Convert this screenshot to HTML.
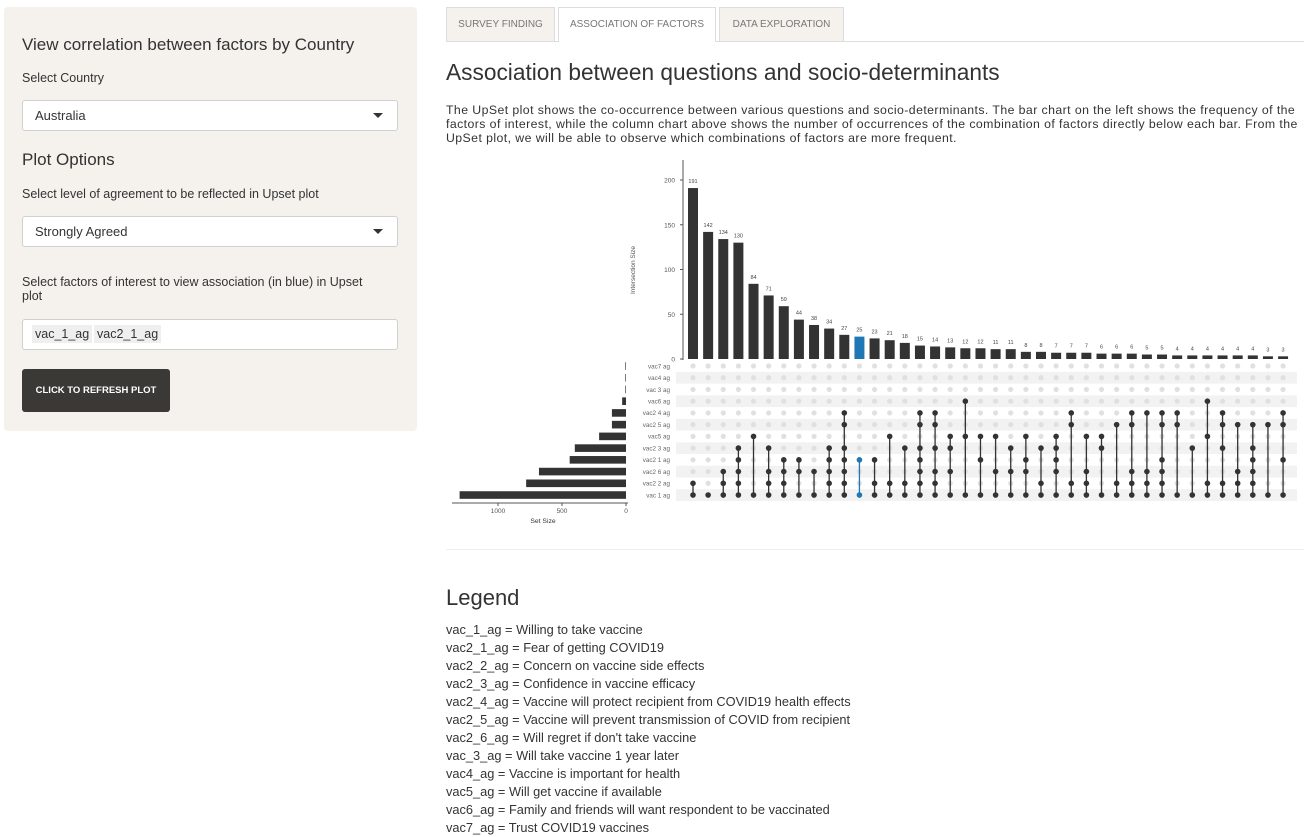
<!DOCTYPE html>
<html><head><meta charset="utf-8">
<style>
body{margin:0;width:1312px;height:837px;position:relative;background:#fff;font-family:"Liberation Sans",sans-serif;color:#333;overflow:hidden}
.a{position:absolute;white-space:nowrap}
.sel{position:absolute;left:22px;width:376px;height:31px;border:1px solid #d0d0d0;border-radius:3px;background:#fff;box-sizing:border-box;font-size:13px;line-height:29px;padding-left:12px;color:#333}
.sel:after{content:"";position:absolute;right:14px;top:12px;border-left:5px solid transparent;border-right:5px solid transparent;border-top:5px solid #333}
.tab{position:absolute;top:7px;height:34px;box-sizing:border-box;border:1px solid #ddd;border-bottom:none;background:#f5f2ed;font-size:10px;color:#777;line-height:33px;text-align:center;font-family:"Liberation Sans Narrow","Liberation Sans",sans-serif}
.cond{font-family:"Liberation Sans Narrow","Liberation Sans",sans-serif}
.leg{position:absolute;left:446px;font-size:12.8px;color:#333;white-space:nowrap}
</style></head><body>
<div class="a" style="left:4px;top:7px;width:413px;height:424px;background:#f5f2ed;border-radius:4px"></div>
<div class="a" style="left:22px;top:35px;font-size:17px;color:#333">View correlation between factors by Country</div>
<div class="a" style="left:22px;top:71px;font-size:12.5px">Select Country</div>
<div class="sel" style="top:100px">Australia</div>
<div class="a" style="left:22px;top:150px;font-size:17px">Plot Options</div>
<div class="a" style="left:22px;top:187px;font-size:12.5px">Select level of agreement to be reflected in Upset plot</div>
<div class="sel" style="top:216px">Strongly Agreed</div>
<div class="a" style="left:22px;top:275px;font-size:12.5px;line-height:14px;white-space:normal;width:362px">Select factors of interest to view association (in blue) in Upset plot</div>
<div class="a" style="left:22px;top:319px;width:376px;height:31px;border:1px solid #d0d0d0;border-radius:3px;background:#fff;box-sizing:border-box">
<span class="a" style="left:9px;top:5px;background:#efefef;font-size:12.5px;padding:2px 3px">vac_1_ag</span>
<span class="a" style="left:71px;top:5px;background:#efefef;font-size:12.5px;padding:2px 3px">vac2_1_ag</span></div>
<div class="a" style="left:22px;top:369px;width:148px;height:43px;background:#3b3935;border-radius:3px;color:#fff;font-size:9.5px;font-weight:bold;line-height:43px;text-align:center">CLICK TO REFRESH PLOT</div>

<div class="tab" style="left:446px;width:109px">SURVEY FINDING</div>
<div class="tab" style="left:558px;width:158px;background:#fff;height:35px">ASSOCIATION OF FACTORS</div>
<div class="tab" style="left:719px;width:125px">DATA EXPLORATION</div>
<div class="a" style="left:446px;top:41px;width:858px;height:1px;background:#ddd"></div>
<div class="a" style="left:559px;top:41px;width:156px;height:1px;background:#fff"></div>
<div class="a cond" style="left:446px;top:59px;font-size:22.7px;color:#333">Association between questions and socio-determinants</div>
<div class="a cond" style="left:446px;top:103px;font-size:12.3px;line-height:14px;color:#333;letter-spacing:0.42px">The UpSet plot shows the co-occurrence between various questions and socio-determinants. The bar chart on the left shows the frequency of the<br>factors of interest, while the column chart above shows the number of occurrences of the combination of factors directly below each bar. From the<br>UpSet plot, we will be able to observe which combinations of factors are more frequent.</div>

<svg id="plot" class="a" style="left:0;top:0" width="1312" height="837" font-family="Liberation Sans, sans-serif"></svg>

<div class="a" style="left:446px;top:549px;width:858px;height:1px;background:#eee"></div>
<div class="a" style="left:446px;top:585px;font-size:22px">Legend</div>
<div class="leg" style="top:622px">vac_1_ag = Willing to take vaccine</div>
<div class="leg" style="top:640px">vac2_1_ag = Fear of getting COVID19</div>
<div class="leg" style="top:658px">vac2_2_ag = Concern on vaccine side effects</div>
<div class="leg" style="top:676px">vac2_3_ag = Confidence in vaccine efficacy</div>
<div class="leg" style="top:694px">vac2_4_ag = Vaccine will protect recipient from COVID19 health effects</div>
<div class="leg" style="top:712px">vac2_5_ag = Vaccine will prevent transmission of COVID from recipient</div>
<div class="leg" style="top:730px">vac2_6_ag = Will regret if don't take vaccine</div>
<div class="leg" style="top:748px">vac_3_ag = Will take vaccine 1 year later</div>
<div class="leg" style="top:766px">vac4_ag = Vaccine is important for health</div>
<div class="leg" style="top:784px">vac5_ag = Will get vaccine if available</div>
<div class="leg" style="top:802px">vac6_ag = Family and friends will want respondent to be vaccinated</div>
<div class="leg" style="top:820px">vac7_ag = Trust COVID19 vaccines</div>

<script>
const setNames = ["vac7 ag","vac4 ag","vac 3 ag","vac6 ag","vac2 4 ag","vac2 5 ag","vac5 ag","vac2 3 ag","vac2 1 ag","vac2 6 ag","vac2 2 ag","vac 1 ag"];
const setSizes = [5,5,5,30,110,110,210,400,440,680,780,1300];
const intersectionSizes = [191,142,134,130,84,71,59,44,38,34,27,25,23,21,18,15,14,13,12,12,11,11,8,8,7,7,7,6,6,6,5,5,4,4,4,4,4,4,3,3];
const highlighted = [11];
const combos = [
[11,10],[11],[11,10,9],[11,10,9,8,7],[11,6],[11,10,9,7],[11,10,9,8],[11,9,8],[11,9],[11,10,9,8,7],
[11,10,9,8,7,5,4],[11,8],[11,10,8],[11,10,6],[11,10,7],[11,10,9,8,7,5,4],[11,10,9,7,5,4],[11,9,7,6],[11,6,3],[11,8,6],
[11,9,6],[11,9,7],[11,9,8,6],[11,10,7],[11,9,8,7,6],[11,10,5,4],[11,10,9,6],[11,7,6],[11,10,5],[11,10,9,5,4],
[11,10,9,4],[11,10,9,8,5,4],[11,5,4],[11,7],[11,10,6,3],[11,10,7,5,4],[11,10,9,5],[11,10,9,8,7,5],[11,5],[11,8,5,4]];
const yTicks = [0,50,100,150,200];
const setTicks = [0,500,1000];

const svg = document.getElementById('plot');
const NS = 'http://www.w3.org/2000/svg';
const yS = v => 359 - v * (179/200);
const xC = i => 693 + i * 15.13;
const yR = j => 366 + j * 11.73;
const xSet = v => 626 - v * 0.128;
function mk(tag, attrs, text){const e=document.createElementNS(NS,tag);for(const k in attrs)e.setAttribute(k,attrs[k]);if(text!==undefined)e.textContent=text;svg.appendChild(e);return e;}

setNames.forEach((n,j)=>{ if(j%2===1){ const r=mk('rect',{x:676,y:yR(j)-5.8,width:621,height:11.7,fill:'#f2f2f2'});

}});
const ax=mk('line',{x1:683,y1:160,x2:683,y2:360,stroke:'#555','stroke-width':1});


yTicks.forEach(t=>{
 mk('line',{x1:680,y1:yS(t),x2:683,y2:yS(t),stroke:'#555'});
 const tl=mk('text',{x:675,y:yS(t)+2.5,'font-size':6.5,fill:'#555','text-anchor':'end'},String(t));
 
 
});
const yt=mk('text',{x:0,y:0,'font-size':6.5,fill:'#555','text-anchor':'middle',transform:'translate(635,270) rotate(-90)'},'Intersection Size');


intersectionSizes.forEach((v,i)=>{
 const col = highlighted.includes(i)?'#1f77b4':'#333';
 const b=mk('rect',{x:xC(i)-5,y:yS(v),width:10,height:359-yS(v),fill:col});
 
 
 const l=mk('text',{x:xC(i),y:yS(v)-5,'font-size':5.5,fill:'#444','text-anchor':'middle'},String(v));
 
 
});
setNames.forEach((n,j)=>{
 const v=setSizes[j];
 const b=mk('rect',{x:xSet(v),y:yR(j)-3.8,width:626-xSet(v),height:7.6,fill:'#333'});
 
 
 const t=mk('text',{x:670,y:yR(j)+2.3,'font-size':6.3,fill:'#666','text-anchor':'end'},n);
 
 
});
const sa=mk('line',{x1:452,y1:503,x2:628,y2:503,stroke:'#555'});


setTicks.forEach(t=>{
 mk('line',{x1:xSet(t),y1:503,x2:xSet(t),y2:506,stroke:'#555'});
 const tl=mk('text',{x:xSet(t),y:513,'font-size':6.5,fill:'#555','text-anchor':'middle'},String(t));
 
 
});
const st=mk('text',{x:543,y:523,'font-size':6.8,fill:'#333','text-anchor':'middle'},'Set Size');


combos.forEach((c,i)=>{
 const col = highlighted.includes(i)?'#1f77b4':'#333';
 setNames.forEach((n,j)=>{ if(!c.includes(j)){ mk('circle',{cx:xC(i),cy:yR(j),r:2.6,fill:'#e0e0e0'}); }});
 const ys=c.map(yR);
 const ln=mk('line',{x1:xC(i),y1:Math.min(...ys),x2:xC(i),y2:Math.max(...ys),stroke:col,'stroke-width':1.3});
 
 
 c.forEach(j=>{
  const d=mk('circle',{cx:xC(i),cy:yR(j),r:2.8,fill:col});
  
  
 });
});
</script>
</body></html>
